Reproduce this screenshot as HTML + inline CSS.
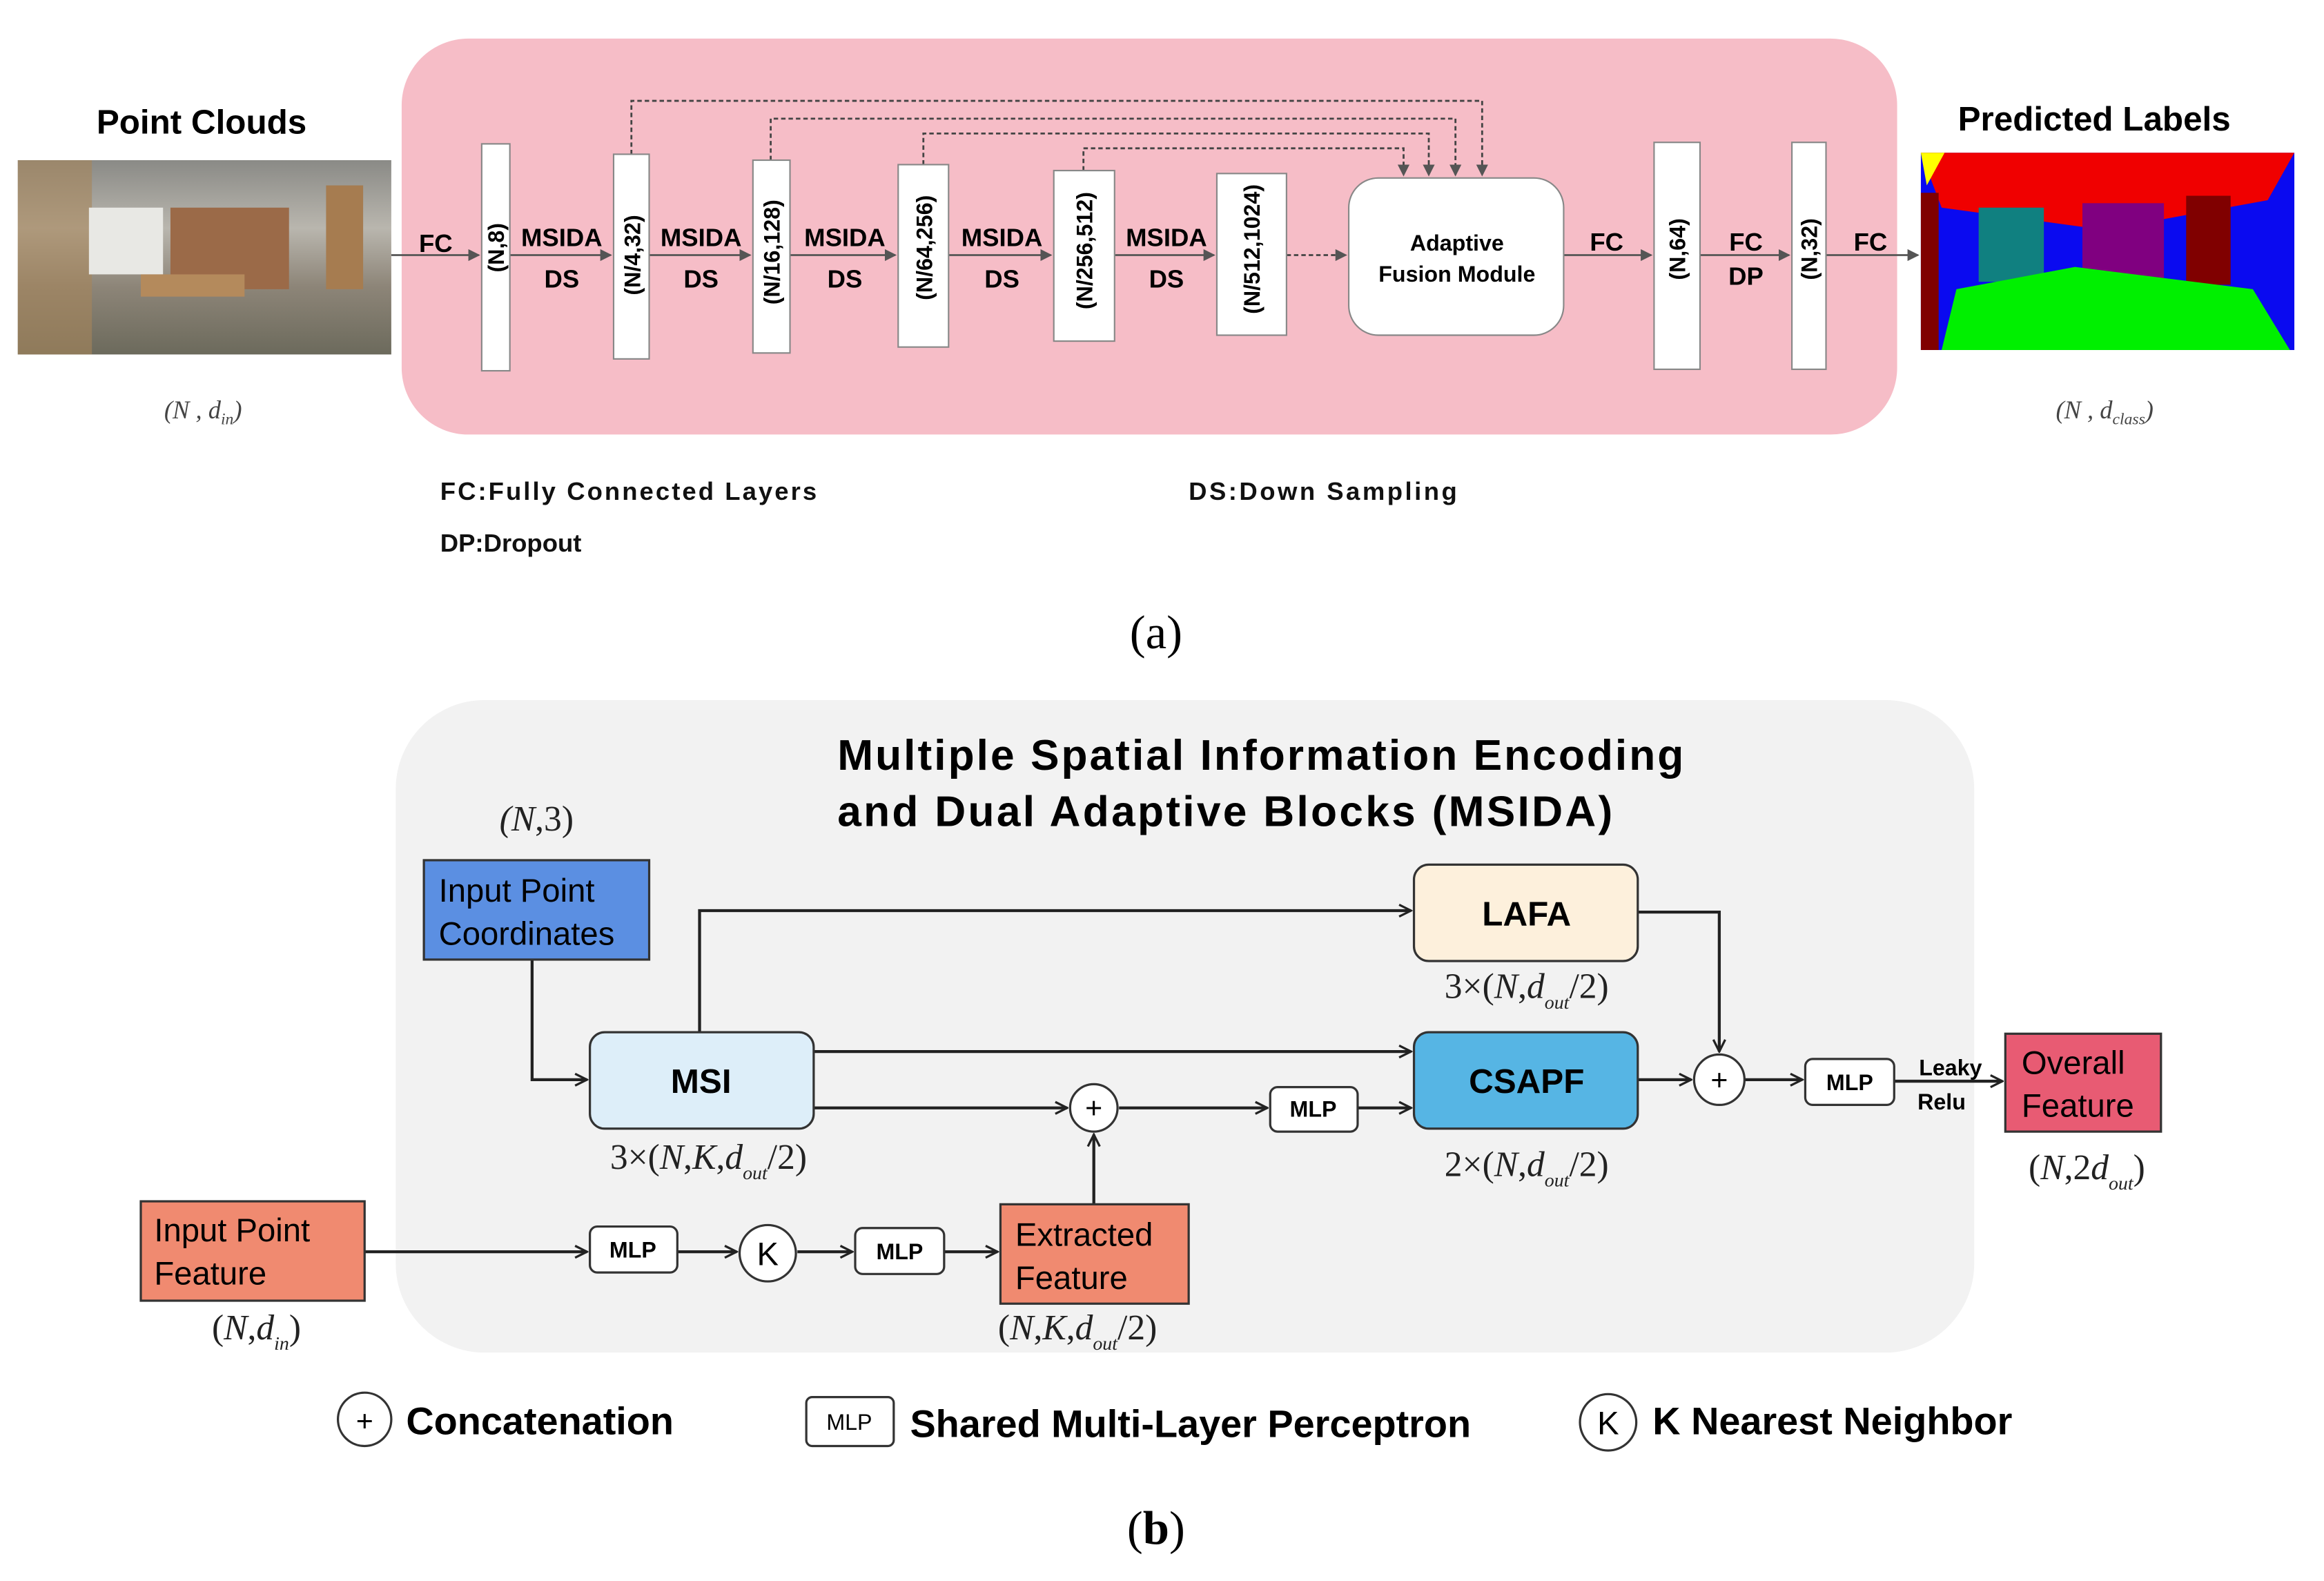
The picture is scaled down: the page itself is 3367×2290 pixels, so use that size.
<!DOCTYPE html>
<html><head><meta charset="utf-8"><style>html,body{margin:0;padding:0;background:#fff}svg{display:block}</style></head>
<body>
<svg width="3367" height="2290" viewBox="0 0 1568 1066" preserveAspectRatio="none" xmlns="http://www.w3.org/2000/svg" font-family="Liberation Sans, Arial, sans-serif">
<defs>
<marker id="ar" markerWidth="10" markerHeight="10" refX="9" refY="5" orient="auto" markerUnits="userSpaceOnUse"><path d="M1,1 L9,5 L1,9" fill="none" stroke="#222" stroke-width="1.5"/></marker>
<marker id="ar2" markerWidth="8" markerHeight="8" refX="7" refY="4" orient="auto" markerUnits="userSpaceOnUse"><path d="M0,0 L8,4 L0,8z" fill="#555"/></marker>
<linearGradient id="room" x1="0" y1="0" x2="0" y2="1"><stop offset="0" stop-color="#8a8a86"/><stop offset="0.35" stop-color="#b9b6ae"/><stop offset="0.65" stop-color="#8d8578"/><stop offset="1" stop-color="#6c6a5c"/></linearGradient>
</defs>

<!-- (a) -->
<text x="136" y="90" font-size="23" font-weight="bold" text-anchor="middle">Point Clouds</text>
<rect x="12" y="108" width="252" height="131" fill="url(#room)"/>
<rect x="12" y="108" width="50" height="131" fill="#a7865a" opacity="0.6"/>
<rect x="60" y="140" width="50" height="45" fill="#e8e8e4"/>
<rect x="115" y="140" width="80" height="55" fill="#9b6a48"/>
<rect x="95" y="185" width="70" height="15" fill="#b48a5c"/>
<rect x="220" y="125" width="25" height="70" fill="#a67c50"/>
<text x="137" y="282" font-size="17" font-family="Liberation Serif, serif" font-style="italic" text-anchor="middle" fill="#444">(N , d<tspan font-size="11" dy="4">in</tspan><tspan dy="-4">)</tspan></text>

<rect x="271" y="26" width="1009" height="267" rx="45" fill="#f6bdc7"/>

<g stroke="#444" stroke-width="1.3" stroke-dasharray="3,2" fill="none">
<path d="M426,104 V68 H1000 V118" marker-end="url(#ar2)"/>
<path d="M520,108 V80 H982 V118" marker-end="url(#ar2)"/>
<path d="M623,111 V90 H964 V118" marker-end="url(#ar2)"/>
<path d="M731,115 V100 H947 V118" marker-end="url(#ar2)"/>
<path d="M868,172 H908" marker-end="url(#ar2)"/>
</g>
<g stroke="#555" stroke-width="1.3" fill="none">
<path d="M264,172 H323" marker-end="url(#ar2)"/>
<path d="M344,172 H412" marker-end="url(#ar2)"/>
<path d="M438,172 H506" marker-end="url(#ar2)"/>
<path d="M533,172 H604" marker-end="url(#ar2)"/>
<path d="M640,172 H709" marker-end="url(#ar2)"/>
<path d="M752,172 H819" marker-end="url(#ar2)"/>
<path d="M1055,172 H1114" marker-end="url(#ar2)"/>
<path d="M1147,172 H1207" marker-end="url(#ar2)"/>
<path d="M1232,172 H1294" marker-end="url(#ar2)"/>
</g>
<g fill="#fff" stroke="#888" stroke-width="1">
<rect x="325" y="97" width="19" height="153"/>
<rect x="414" y="104" width="24" height="138"/>
<rect x="508" y="108" width="25" height="130"/>
<rect x="606" y="111" width="34" height="123"/>
<rect x="711" y="115" width="41" height="115"/>
<rect x="821" y="117" width="47" height="109"/>
<rect x="910" y="120" width="145" height="106" rx="20"/>
<rect x="1116" y="96" width="31" height="153"/>
<rect x="1209" y="96" width="23" height="153"/>
</g>
<g font-size="15" font-weight="bold" text-anchor="middle">
<text transform="translate(340,167) rotate(-90)">(N,8)</text>
<text transform="translate(432,172) rotate(-90)">(N/4,32)</text>
<text transform="translate(526,170) rotate(-90)">(N/16,128)</text>
<text transform="translate(629,167) rotate(-90)">(N/64,256)</text>
<text transform="translate(737,169) rotate(-90)">(N/256,512)</text>
<text transform="translate(850,168) rotate(-90)">(N/512,1024)</text>
<text transform="translate(1137,168) rotate(-90)">(N,64)</text>
<text transform="translate(1226,168) rotate(-90)">(N,32)</text>
</g>
<g font-size="17" font-weight="bold" text-anchor="middle">
<text x="294" y="170">FC</text>
<text x="379" y="166">MSIDA</text><text x="379" y="194">DS</text>
<text x="473" y="166">MSIDA</text><text x="473" y="194">DS</text>
<text x="570" y="166">MSIDA</text><text x="570" y="194">DS</text>
<text x="676" y="166">MSIDA</text><text x="676" y="194">DS</text>
<text x="787" y="166">MSIDA</text><text x="787" y="194">DS</text>
<text x="1084" y="169">FC</text>
<text x="1178" y="169">FC</text><text x="1178" y="192">DP</text>
<text x="1262" y="169">FC</text>
<text x="983" y="169" font-size="15">Adaptive</text>
<text x="983" y="190" font-size="15">Fusion Module</text>
</g>

<text x="1413" y="88" font-size="23" font-weight="bold" text-anchor="middle">Predicted Labels</text>
<rect x="1296" y="103" width="252" height="133" fill="#0a0af0"/>
<polygon points="1296,103 1548,103 1530,135 1420,155 1310,140" fill="#f00000"/>
<polygon points="1296,103 1312,103 1300,125" fill="#ffff00"/>
<rect x="1335" y="140" width="44" height="50" fill="#108080"/>
<rect x="1405" y="137" width="55" height="60" fill="#800080"/>
<rect x="1475" y="132" width="30" height="60" fill="#800000"/>
<rect x="1296" y="130" width="12" height="106" fill="#800000"/>
<polygon points="1310,236 1320,195 1400,180 1520,195 1545,236" fill="#00f000"/>
<text x="1420" y="282" font-size="17" font-family="Liberation Serif, serif" font-style="italic" text-anchor="middle" fill="#444">(N , d<tspan font-size="11" dy="4">class</tspan><tspan dy="-4">)</tspan></text>

<g font-size="17" font-weight="bold" fill="#111">
<text x="297" y="337" textLength="254">FC:Fully Connected Layers</text>
<text x="297" y="372">DP:Dropout</text>
<text x="802" y="337" textLength="181">DS:Down Sampling</text>
</g>
<text x="780" y="437" font-size="32" font-family="Liberation Serif, serif" text-anchor="middle">(a)</text>

<!-- (b) -->
<rect x="267" y="472" width="1065" height="440" rx="60" fill="#f2f2f2"/>
<g font-size="29" font-weight="bold">
<text x="565" y="519" textLength="571">Multiple Spatial Information Encoding</text>
<text x="565" y="557" textLength="523">and Dual Adaptive Blocks (MSIDA)</text>
</g>
<g font-family="Liberation Serif, serif" font-size="24" text-anchor="middle" fill="#222">
<text x="362" y="560"><tspan font-style="italic">(N</tspan>,3)</text>
<text x="478" y="788">3×(<tspan font-style="italic">N</tspan>,<tspan font-style="italic">K</tspan>,<tspan font-style="italic">d</tspan><tspan font-size="13" font-style="italic" dy="7">out</tspan><tspan dy="-7">/2)</tspan></text>
<text x="1030" y="673">3×(<tspan font-style="italic">N</tspan>,<tspan font-style="italic">d</tspan><tspan font-size="13" font-style="italic" dy="7">out</tspan><tspan dy="-7">/2)</tspan></text>
<text x="1030" y="793">2×(<tspan font-style="italic">N</tspan>,<tspan font-style="italic">d</tspan><tspan font-size="13" font-style="italic" dy="7">out</tspan><tspan dy="-7">/2)</tspan></text>
<text x="1408" y="795">(<tspan font-style="italic">N</tspan>,2<tspan font-style="italic">d</tspan><tspan font-size="13" font-style="italic" dy="7">out</tspan><tspan dy="-7">)</tspan></text>
<text x="173" y="903">(<tspan font-style="italic">N</tspan>,<tspan font-style="italic">d</tspan><tspan font-size="13" font-style="italic" dy="7">in</tspan><tspan dy="-7">)</tspan></text>
<text x="727" y="903">(<tspan font-style="italic">N</tspan>,<tspan font-style="italic">K</tspan>,<tspan font-style="italic">d</tspan><tspan font-size="13" font-style="italic" dy="7">out</tspan><tspan dy="-7">/2)</tspan></text>
</g>

<g stroke="#222" stroke-width="2" fill="none">
<path d="M359,647 V728 H396" marker-end="url(#ar)"/>
<path d="M472,696 V614 H952" marker-end="url(#ar)"/>
<path d="M549,709 H952" marker-end="url(#ar)"/>
<path d="M549,747 H720" marker-end="url(#ar)"/>
<path d="M755,747 H855" marker-end="url(#ar)"/>
<path d="M916,747 H952" marker-end="url(#ar)"/>
<path d="M1105,615 H1160 V709" marker-end="url(#ar)"/>
<path d="M1105,728 H1141" marker-end="url(#ar)"/>
<path d="M1177,728 H1216" marker-end="url(#ar)"/>
<path d="M1278,729 H1351" marker-end="url(#ar)"/>
<path d="M246,844 H396" marker-end="url(#ar)"/>
<path d="M457,844 H497" marker-end="url(#ar)"/>
<path d="M538,844 H575" marker-end="url(#ar)"/>
<path d="M637,844 H673" marker-end="url(#ar)"/>
<path d="M738,812 V765" marker-end="url(#ar)"/>
</g>

<rect x="286" y="580" width="152" height="67" fill="#5b8fe2" stroke="#333" stroke-width="1.5"/>
<text x="296" y="608" font-size="22">Input Point</text>
<text x="296" y="637" font-size="22">Coordinates</text>
<rect x="398" y="696" width="151" height="65" rx="10" fill="#ddeef9" stroke="#333" stroke-width="1.5"/>
<text x="473" y="737" font-size="23" font-weight="bold" text-anchor="middle">MSI</text>
<rect x="954" y="583" width="151" height="65" rx="10" fill="#fdf0dc" stroke="#333" stroke-width="1.5"/>
<text x="1030" y="624" font-size="23" font-weight="bold" text-anchor="middle">LAFA</text>
<rect x="954" y="696" width="151" height="65" rx="10" fill="#56b5e4" stroke="#333" stroke-width="1.5"/>
<text x="1030" y="737" font-size="23" font-weight="bold" text-anchor="middle">CSAPF</text>
<rect x="1353" y="697" width="105" height="66" fill="#e85b73" stroke="#333" stroke-width="1.5"/>
<text x="1364" y="724" font-size="22">Overall</text>
<text x="1364" y="753" font-size="22">Feature</text>
<rect x="95" y="810" width="151" height="67" fill="#f08a70" stroke="#333" stroke-width="1.5"/>
<text x="104" y="837" font-size="22">Input Point</text>
<text x="104" y="866" font-size="22">Feature</text>
<rect x="675" y="812" width="127" height="67" fill="#f08a70" stroke="#333" stroke-width="1.5"/>
<text x="685" y="840" font-size="22">Extracted</text>
<text x="685" y="869" font-size="22">Feature</text>

<g fill="#fff" stroke="#333" stroke-width="1.5">
<rect x="857" y="733" width="59" height="30" rx="5"/>
<rect x="1218" y="714" width="60" height="31" rx="5"/>
<rect x="398" y="827" width="59" height="31" rx="5"/>
<rect x="577" y="828" width="60" height="31" rx="5"/>
<circle cx="738" cy="747" r="16"/>
<circle cx="1160" cy="728" r="17"/>
<circle cx="518" cy="845" r="19"/>
</g>
<g font-size="15" font-weight="bold" text-anchor="middle">
<text x="886" y="753">MLP</text>
<text x="1248" y="735">MLP</text>
<text x="427" y="848">MLP</text>
<text x="607" y="849">MLP</text>
<text x="1316" y="725">Leaky</text>
<text x="1310" y="748">Relu</text>
</g>
<g font-size="20" text-anchor="middle">
<text x="738" y="754">+</text>
<text x="1160" y="735">+</text>
<text x="518" y="853" font-size="22">K</text>
</g>

<circle cx="246" cy="957" r="18" fill="#fff" stroke="#333" stroke-width="1.5"/>
<text x="246" y="965" font-size="20" text-anchor="middle">+</text>
<text x="274" y="967" font-size="26" font-weight="bold">Concatenation</text>
<rect x="544" y="942" width="59" height="33" rx="4" fill="#fff" stroke="#333" stroke-width="1.5"/>
<text x="573" y="964" font-size="15" text-anchor="middle">MLP</text>
<text x="614" y="969" font-size="26" font-weight="bold">Shared Multi-Layer Perceptron</text>
<circle cx="1085" cy="959" r="19" fill="#fff" stroke="#333" stroke-width="1.5"/>
<text x="1085" y="967" font-size="22" text-anchor="middle">K</text>
<text x="1115" y="967" font-size="26" font-weight="bold">K Nearest Neighbor</text>

<text x="780" y="1041" font-size="32" font-family="Liberation Serif, serif" text-anchor="middle">(<tspan font-weight="bold">b</tspan>)</text>
</svg>
</body></html>
